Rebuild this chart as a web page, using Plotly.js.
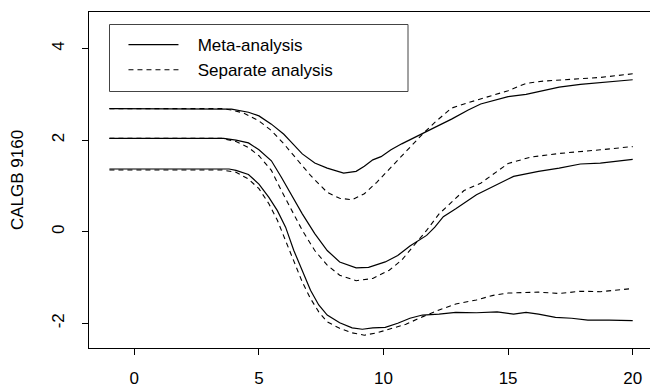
<!DOCTYPE html>
<html>
<head>
<meta charset="utf-8">
<script src="https://cdn.plot.ly/plotly-3.0.1.min.js"></script>
<style>
html,body{margin:0;padding:0;background:#fff;overflow:hidden;width:650px;height:388px;}
#chart{width:670px;height:388px;}
</style>
</head>
<body>
<div id="chart"></div>
<script>
// Upper band
var metaUpperX = [-1, 3.5, 3.9, 4.58, 5, 5.5, 6.0, 6.24, 6.74, 7.24, 7.74, 8.4, 8.9, 9.23, 9.57, 9.9, 10.3, 10.73, 11.23, 11.5, 12.06, 12.73, 13.4, 13.9, 14.4, 15, 15.72, 16.4, 17.05, 17.9, 18.7, 20];
var metaUpperY = [2.69, 2.69, 2.68, 2.61, 2.53, 2.35, 2.13, 1.99, 1.70, 1.50, 1.39, 1.28, 1.32, 1.43, 1.57, 1.64, 1.79, 1.92, 2.06, 2.12, 2.28, 2.46, 2.66, 2.79, 2.86, 2.95, 3.00, 3.08, 3.16, 3.22, 3.26, 3.32];
var sepUpperX = [-1, 3.5, 3.9, 4.4, 5, 5.5, 6, 6.57, 7.07, 7.74, 8.24, 8.74, 9.23, 9.73, 10.23, 10.73, 11.23, 11.56, 12.06, 12.73, 13.4, 14.2, 15, 15.72, 16.4, 17.55, 18.7, 20];
var sepUpperY = [2.69, 2.69, 2.66, 2.59, 2.42, 2.21, 1.92, 1.55, 1.23, 0.86, 0.73, 0.70, 0.83, 1.08, 1.37, 1.66, 1.95, 2.13, 2.39, 2.70, 2.82, 2.95, 3.08, 3.24, 3.29, 3.33, 3.37, 3.45];

// Middle (point estimate)
var metaMidX = [-1, 3.58, 4.08, 4.58, 5, 5.5, 5.9, 6.24, 6.74, 7.24, 7.74, 8.24, 8.9, 9.4, 10.07, 10.57, 11.06, 11.73, 12.06, 12.4, 12.9, 13.73, 14.56, 15.22, 16.22, 17.05, 17.9, 18.7, 20];
var metaMidY = [2.04, 2.04, 2.0, 1.94, 1.79, 1.55, 1.19, 0.86, 0.39, -0.04, -0.41, -0.66, -0.79, -0.78, -0.66, -0.52, -0.31, -0.08, 0.10, 0.33, 0.50, 0.81, 1.04, 1.21, 1.32, 1.39, 1.48, 1.50, 1.58];
var sepMidX = [-1, 3.5, 4.08, 4.58, 5, 5.5, 5.9, 6.24, 6.74, 7.24, 7.74, 8.24, 8.9, 9.57, 10.23, 10.73, 11.23, 11.73, 12.23, 12.73, 13.23, 13.9, 15, 15.9, 17.05, 18.7, 20];
var sepMidY = [2.04, 2.04, 1.97, 1.84, 1.66, 1.34, 0.90, 0.54, 0.03, -0.41, -0.73, -0.95, -1.07, -1.02, -0.84, -0.62, -0.30, 0.03, 0.39, 0.65, 0.90, 1.06, 1.49, 1.63, 1.71, 1.79, 1.86];

// Lower band
var metaLowerX = [-1, 3.8, 4.08, 4.58, 5, 5.4, 5.74, 6.07, 6.4, 6.74, 7.07, 7.4, 7.74, 8.24, 8.74, 9.15, 9.57, 10.07, 10.57, 11.06, 11.56, 12.23, 12.9, 13.73, 14.56, 15.22, 15.72, 16.22, 16.9, 17.55, 18.2, 19.05, 20];
var metaLowerY = [1.37, 1.37, 1.34, 1.25, 1.04, 0.75, 0.46, 0.10, -0.41, -0.84, -1.28, -1.60, -1.82, -1.99, -2.10, -2.13, -2.10, -2.09, -2.00, -1.89, -1.82, -1.80, -1.76, -1.77, -1.75, -1.80, -1.76, -1.80, -1.87, -1.89, -1.93, -1.93, -1.94];
var sepLowerX = [-1, 3.5, 4.08, 4.58, 5, 5.4, 5.74, 6.07, 6.4, 6.74, 7.07, 7.4, 7.74, 8.24, 8.74, 9.23, 9.73, 10.23, 10.9, 11.56, 12.23, 12.9, 13.73, 14.4, 15, 16.22, 17.05, 17.9, 18.7, 20];
var sepLowerY = [1.35, 1.35, 1.30, 1.15, 0.94, 0.61, 0.25, -0.19, -0.66, -1.10, -1.46, -1.75, -1.97, -2.11, -2.21, -2.26, -2.21, -2.13, -2.02, -1.86, -1.71, -1.58, -1.49, -1.39, -1.34, -1.32, -1.35, -1.30, -1.31, -1.24];

var xTicks = [0, 5, 10, 15, 20];
var yTicks = [-2, 0, 2, 4];
var legendNames = ["Meta-analysis", "Separate analysis"];
var yTitle = "CALGB 9160";

var FONT = "Liberation Sans, Arial, Helvetica, sans-serif";
var FS = 17;
var solid = {color: "#000", width: 1.2, dash: "solid"};
var dashed = {color: "#000", width: 1.1, dash: "5px,4px"};

function tr(x, y, line, name, show) {
  return {x: x, y: y, type: "scatter", mode: "lines", line: line,
          name: "\u00a0\u00a0\u00a0" + name,
          legendgroup: name, showlegend: show, hoverinfo: "skip"};
}

var data = [
  tr(metaUpperX, metaUpperY, solid, legendNames[0], true),
  tr(sepUpperX, sepUpperY, dashed, legendNames[1], true),
  tr(metaMidX, metaMidY, solid, legendNames[0], false),
  tr(sepMidX, sepMidY, dashed, legendNames[1], false),
  tr(metaLowerX, metaLowerY, solid, legendNames[0], false),
  tr(sepLowerX, sepLowerY, dashed, legendNames[1], false)
];

var layout = {
  width: 670, height: 388,
  margin: {l: 89, r: 16, t: 12, b: 40, pad: 0},
  paper_bgcolor: "#fff", plot_bgcolor: "#fff",
  font: {family: FONT, size: FS, color: "#000"},
  showlegend: true,
  legend: {
    x: 0.061, y: 0.955, xanchor: "left", yanchor: "top",
    bgcolor: "rgba(0,0,0,0)", borderwidth: 0,
    font: {family: FONT, size: FS, color: "#000"},
    itemwidth: 50, traceorder: "normal", tracegroupgap: 0
  },
  shapes: [{type: "rect", xref: "paper", yref: "paper",
            x0: (109.5 - 89) / 565, x1: (408 - 89) / 565,
            y0: (348 - 91.5) / 336, y1: (348 - 24.5) / 336,
            line: {color: "#444", width: 1}, fillcolor: "rgba(0,0,0,0)"}],
  xaxis: {
    range: [-1.82, 20.855], tickmode: "array", tickvals: xTicks, ticktext: xTicks.map(String),
    showgrid: false, zeroline: false, showline: true, mirror: true, linecolor: "#000", linewidth: 1,
    ticks: "outside", ticklen: 6, tickwidth: 1, tickcolor: "#000",
    tickfont: {family: FONT, size: FS, color: "#000"}, ticklabelstandoff: 9
  },
  yaxis: {
    range: [-2.54, 4.80], tickmode: "array", tickvals: yTicks, ticktext: yTicks.map(String),
    showgrid: false, zeroline: false, showline: true, mirror: true, linecolor: "#000", linewidth: 1,
    ticks: "outside", ticklen: 6, tickwidth: 1, tickcolor: "#000", tickangle: -90,
    tickfont: {family: FONT, size: FS, color: "#000"}, ticklabelstandoff: 11,
    title: {text: yTitle, font: {family: FONT, size: FS, color: "#000"}, standoff: 21}
  }
};

Plotly.newPlot("chart", data, layout, {staticPlot: true, displayModeBar: false});
</script>
</body>
</html>
